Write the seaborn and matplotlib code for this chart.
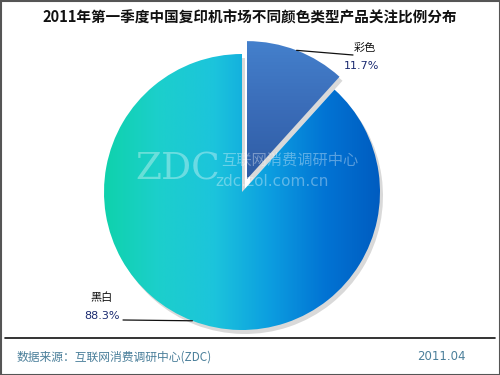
import numpy as np
import matplotlib
matplotlib.use("Agg")
import matplotlib.pyplot as plt
import seaborn as sns
from matplotlib.colors import LinearSegmentedColormap
from matplotlib.patches import Rectangle

sns.set_theme(style="white")
plt.rcParams['font.family'] = ['Noto Sans CJK SC', 'DejaVu Sans']

# ---- data ----
categories = ["彩色", "黑白"]
shares = [11.7, 88.3]
pct_labels = ["11.7%", "88.3%"]
title = "2011年第一季度中国复印机市场不同颜色类型产品关注比例分布"
source = "数据来源：互联网消费调研中心(ZDC)"
date = "2011.04"

W, H = 500, 375
fig = plt.figure(figsize=(5, 3.75), dpi=100)
ax = fig.add_axes([0, 0, 1, 1])
ax.set_xlim(0, W)
ax.set_ylim(0, H)
ax.axis("off")

cx, cy, R = 242, H - 192, 138
explode = [0.1 * R, 0.0]

# shadow
sh_w, _ = ax.pie(shares, explode=explode, startangle=90, counterclock=False,
                 center=(cx + 3, cy - 4), radius=R, frame=True,
                 wedgeprops=dict(facecolor="#000000", alpha=0.15, linewidth=0))
for w in sh_w:
    w.set_zorder(1)

wedges, _ = ax.pie(shares, explode=explode, startangle=90, counterclock=False,
                   center=(cx, cy), radius=R, frame=True,
                   wedgeprops=dict(facecolor="none", linewidth=0))
ax.set_xlim(0, W)
ax.set_ylim(0, H)
ax.axis("off")

# gradients
cmap_big = LinearSegmentedColormap.from_list(
    "big", ["#0fd2ac", "#1ccfcc", "#1cc4dc", "#0c9ee0", "#0274d4", "#005cc0"])
cmap_small = LinearSegmentedColormap.from_list(
    "small", ["#4480cc", "#3a6cb8", "#2e5ca4"])
grad_h = np.linspace(0, 1, 256).reshape(1, -1)
grad_v = np.linspace(1, 0, 256).reshape(-1, 1)

w_small, w_big = wedges
bx, by = w_big.center
im = ax.imshow(grad_h, cmap=cmap_big, extent=(bx - R, bx + R, by - R, by + R),
               aspect="auto", origin="lower", zorder=2, interpolation="bicubic")
im.set_clip_path(w_big)
ox, oy = w_small.center
im2 = ax.imshow(grad_v, cmap=cmap_small, extent=(ox, ox + R, oy, oy + R),
                aspect="auto", origin="lower", zorder=2, interpolation="bicubic")
im2.set_clip_path(w_small)
ax.set_xlim(0, W)
ax.set_ylim(0, H)

# labels with leader lines from wedge mid-angles
for w, cat, pct, side in zip(wedges, categories, pct_labels, ["right", "left"]):
    mid = np.deg2rad((w.theta1 + w.theta2) / 2)
    px = w.center[0] + R * np.cos(mid)
    py = w.center[1] + R * np.sin(mid)
    if side == "right":
        ex, ey = 353, H - 55
        ax.plot([px, ex], [py, ey], color="#111111", lw=0.9, zorder=4)
        ax.text(365, H - 48, cat, fontsize=8, ha="center", va="center", color="#111111")
        ax.text(362, H - 66, pct, fontsize=8, ha="center", va="center", color="#1a2a70",
                family=["DejaVu Sans"])
    else:
        ex, ey = 123, H - 320
        ax.plot([px, ex], [py, ey], color="#111111", lw=0.9, zorder=4)
        ax.text(102, H - 298, cat, fontsize=8, ha="center", va="center", color="#111111")
        ax.text(102, H - 316, pct, fontsize=8, ha="center", va="center", color="#1a2a70",
                family=["DejaVu Sans"])

# watermark
ax.text(178, H - 170, "ZDC", fontsize=27, family=["DejaVu Serif"], color="white",
        alpha=0.35, ha="center", va="center", zorder=5)
ax.text(290, H - 160, "互联网消费调研中心", fontsize=11, color="white", alpha=0.35,
        ha="center", va="center", zorder=5)
ax.text(272, H - 181, "zdc.zol.com.cn", fontsize=11, color="white", alpha=0.35,
        family=["DejaVu Sans"], ha="center", va="center", zorder=5)

# title, footer
ax.text(250, H - 18, title, fontsize=10.5, fontweight="bold", ha="center", va="center",
        color="#111111")
ax.plot([5, 495], [H - 338, H - 338], color="#111111", lw=1.2, zorder=6)
ax.text(17, H - 357, source, fontsize=8.5, ha="left", va="center", color="#4a7f9a")
ax.text(466, H - 357, date, fontsize=8.5, ha="right", va="center", color="#4a7f9a",
        family=["DejaVu Sans"])

# frame
ax.add_patch(Rectangle((0.5, 0.5), W - 1, H - 1, fill=False, edgecolor="#555555",
                       lw=1.5, zorder=7))

fig.savefig("out.png", dpi=100)
